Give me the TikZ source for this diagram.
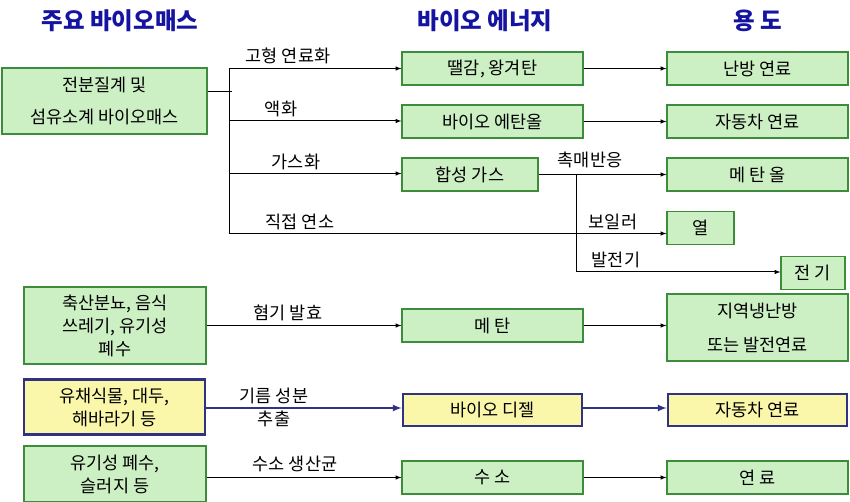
\documentclass[tikz,border=0pt]{standalone}
\usepackage{fontspec}
\setmainfont{Noto Sans CJK KR}
\usetikzlibrary{arrows}

\definecolor{boxgreen}{RGB}{204,240,196}
\definecolor{linegreen}{RGB}{60,140,60}
\definecolor{boxyellow}{RGB}{250,246,170}
\definecolor{navy}{RGB}{50,50,130}
\definecolor{titleblue}{RGB}{20,20,160}

\begin{document}
\begin{tikzpicture}[x=1pt, y=-1pt, font=\fontsize{17.5}{23}\selectfont,
	gbox/.style={draw=linegreen, fill=boxgreen, line width=1.2pt, inner sep=0pt, align=center},
	ybox/.style={draw=navy, fill=boxyellow, line width=2.6pt, inner sep=0pt, align=center},
	title/.style={text=titleblue, font=\fontsize{23.5}{26}\selectfont\bfseries},
	lbl/.style={inner sep=0pt},
	flow/.style={-latex, line width=1pt}]
	\def\cB{492.5}
	\def\cC{757.5}
	\def\xs{229}
	\def\xc{576}

	\useasboundingbox (0,0) rectangle (850,502);

	\node[title] (tBio)  at (120,21)  {주요 바이오매스};
	\node[title] (tEner) at (485,21)  {바이오 에너지};
	\node[title] (tUse)  at (758,21)  {용 도};

	% row 1
	\node[gbox, minimum width=205pt, minimum height=66pt, font=\fontsize{17.5}{32}\selectfont] (starch) at (104.5,101) {전분질계 및\\섬유소계 바이오매스};
	\node[gbox, minimum width=181pt, minimum height=33pt] (solid)    at (\cB,68.5)  {땔감, 왕겨탄};
	\node[gbox, minimum width=181pt, minimum height=33pt] (ethanol)  at (\cB,121.5) {바이오 에탄올};
	\node[gbox, minimum width=136pt, minimum height=33pt] (syngas)   at (470,174.5) {합성 가스};
	\node[gbox, minimum width=181pt, minimum height=33pt] (heating)  at (\cC,68.5)  {난방 연료};
	\node[gbox, minimum width=181pt, minimum height=33pt] (car)      at (\cC,121.5) {자동차 연료};
	\node[gbox, minimum width=181pt, minimum height=33pt] (methanol) at (\cC,174.5) {메 탄 올};
	\node[gbox, minimum width=67pt,  minimum height=33pt] (heat)     at (700.5,228) {열};
	\node[gbox, minimum width=64pt,  minimum height=33pt] (power)    at (813,273)   {전 기};

	\coordinate (sJoin) at (\xs+3,92);
	\coordinate (sTop)  at (\xs,68.5);
	\coordinate (sLiq)  at (\xs,121);
	\coordinate (sGas)  at (\xs,173.5);
	\coordinate (sBot)  at (\xs,233.5);
	\coordinate (sCat)  at (\xc,174.5);
	\coordinate (sGen)  at (\xc,272);

	\draw[line width=1pt] (sJoin -| starch.east) -- (sJoin);
	\draw[line width=1pt] (sTop) -- (sBot);
	\draw[flow] (sTop) -- (sTop -| solid.west);
	\draw[flow] (sLiq) -- (sLiq -| ethanol.west);
	\draw[flow] (sGas) -- (sGas -| syngas.west);
	\draw[flow] (sBot) -- (sBot -| heat.west);
	\draw[flow] (solid) -- (heating);
	\draw[flow] (ethanol) -- (car);
	\draw[flow] (syngas) -- (methanol);
	\draw[line width=1pt] (sCat) -- (sGen);
	\draw[flow] (sGen) -- (sGen -| power.west);

	\node[lbl] (lSolid) at (288,56)  {고형 연료화};
	\node[lbl] (lLiq)   at (281,109) {액화};
	\node[lbl] (lGas)   at (296,162) {가스화};
	\node[lbl] (lBurn)  at (300,222) {직접 연소};
	\node[lbl] (lCat)   at (590,160) {촉매반응};
	\node[lbl] (lBoil)  at (613,222) {보일러};
	\node[lbl] (lGen)   at (616,260) {발전기};

	% row 2
	\node[gbox, minimum width=182pt, minimum height=77pt] (manure)   at (115,325.5) {축산분뇨, 음식\\쓰레기, 유기성\\폐수};
	\node[gbox, minimum width=181pt, minimum height=33pt] (methane)  at (\cB,325.5) {메 탄};
	\node[gbox, minimum width=181pt, minimum height=67pt, font=\fontsize{17.5}{34}\selectfont] (district) at (\cC,327.5) {지역냉난방\\또는 발전연료};
	\draw[flow] (manure) -- (methane);
	\draw[flow] (methane) -- (methane -| district.west);
	\node[lbl] (lAnaer) at (288,313) {혐기 발효};

	% row 3
	\node[ybox, minimum width=181pt, minimum height=55pt] (oilcrop)   at (114.5,407) {유채식물, 대두,\\해바라기 등};
	\node[ybox, minimum width=179pt, minimum height=32pt] (biodiesel) at (\cB,410)   {바이오 디젤};
	\node[ybox, minimum width=179pt, minimum height=32pt] (carB)      at (\cC,410)   {자동차 연료};
	\draw[flow, draw=navy, line width=2pt] (oilcrop.east |- 0,408) -- (biodiesel.west |- 0,408);
	\draw[flow, draw=navy, line width=2pt] (biodiesel.east |- 0,408) -- (carB.west |- 0,408);
	\node[lbl, align=center] (lOil) at (274,407.5) {기름 성분\\추출};

	% row 4
	\node[gbox, minimum width=182pt, minimum height=56pt] (sludge)   at (115,474)   {유기성 폐수,\\슬러지 등};
	\node[gbox, minimum width=181pt, minimum height=33pt] (hydrogen) at (\cB,477.5) {수 소};
	\node[gbox, minimum width=181pt, minimum height=33pt] (fuel)     at (\cC,477.5) {연 료};
	\draw[flow] (sludge.east |- hydrogen) -- (hydrogen.west);
	\draw[flow] (hydrogen) -- (fuel);
	\node[lbl] (lHyd) at (295,464) {수소 생산균};
\end{tikzpicture}
\end{document}
